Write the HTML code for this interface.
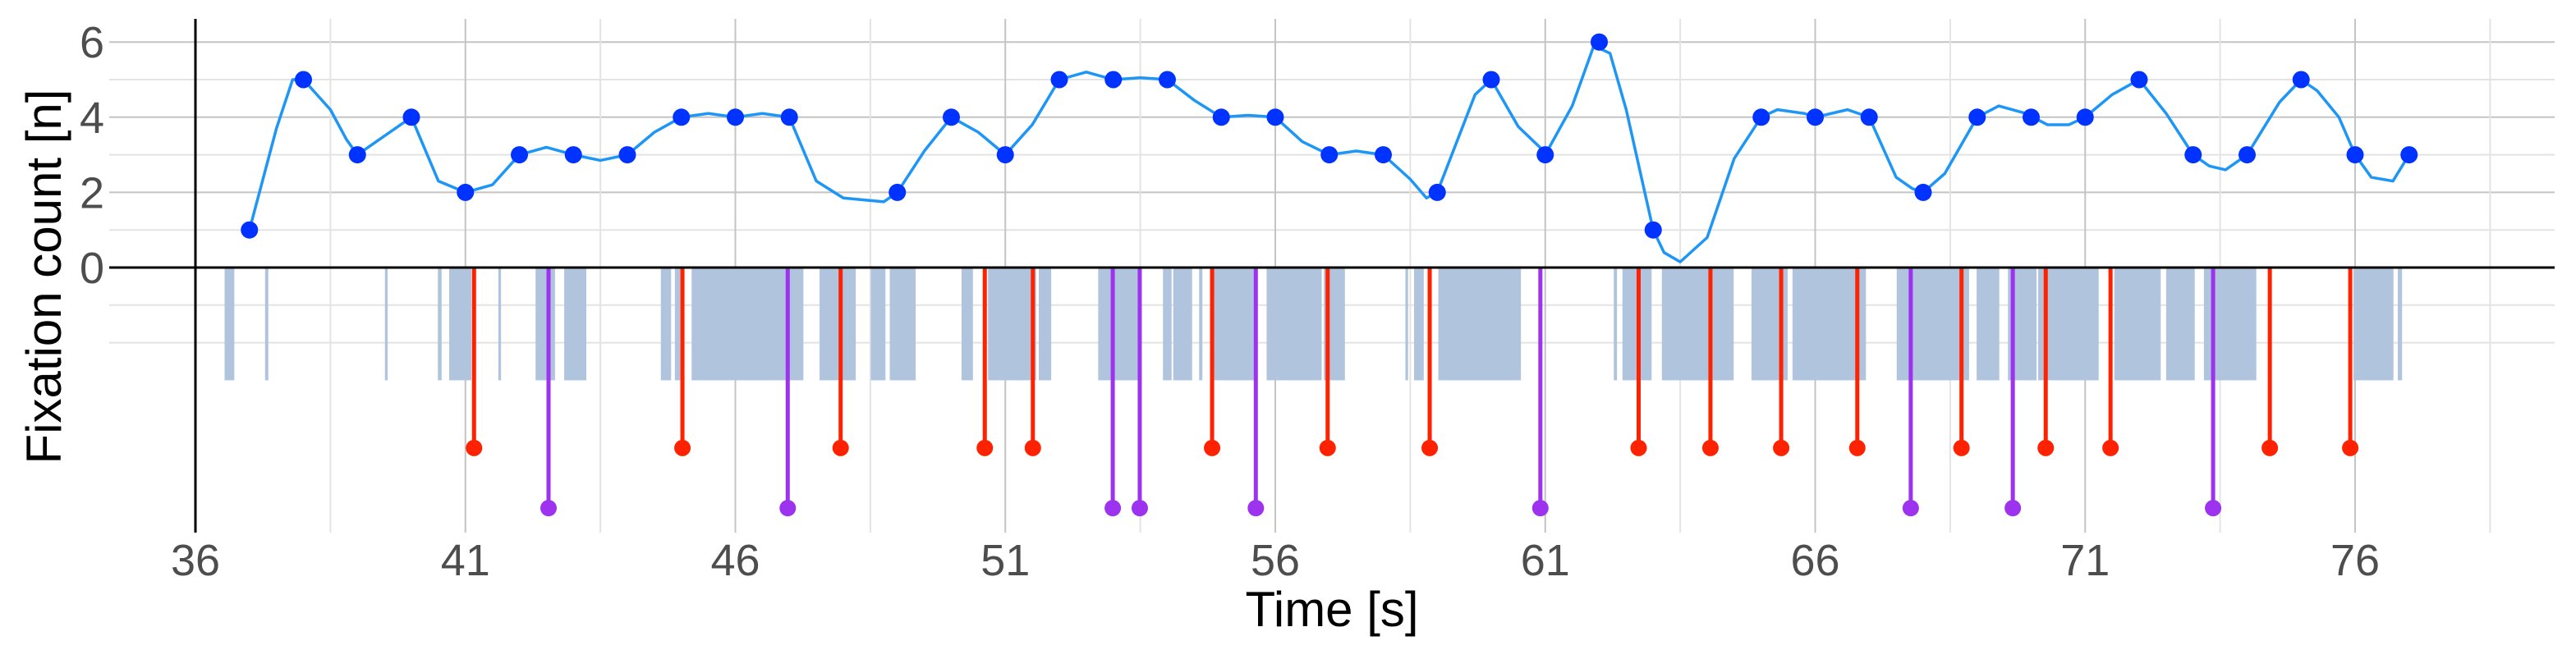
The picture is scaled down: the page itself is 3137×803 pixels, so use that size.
<!DOCTYPE html>
<html><head><meta charset="utf-8"><style>
html,body{margin:0;padding:0;background:#fff;}
svg{display:block;font-family:"Liberation Sans",Arial,sans-serif;}
</style></head><body>
<svg id="chart" width="3137" height="803" viewBox="0 0 3137 803" xmlns="http://www.w3.org/2000/svg">
<g id="grid"></g>
<g id="bars"></g>
<g id="stems"></g>
<g id="axes"></g>
<g id="series"></g>
<g id="labels"></g>
</svg>
<script>
const pointTimes = [37,38,39,40,41,42,43,44,45,46,47,49,50,51,52,53,54,55,56,57,58,59,60,61,62,63,65,66,67,68,69,70,71,72,73,74,75,76,77];
const pointValues = [1,5,3,4,2,3,3,3,4,4,4,2,4,3,5,5,5,4,4,3,3,2,5,3,6,1,4,4,4,2,4,4,4,5,3,3,5,3,3];
const lineTimes = [37,37.5,37.8,38,38.5,38.8,39,39.5,40,40.5,41,41.5,42,42.5,43,43.5,44,44.5,45,45.5,46,46.5,47,47.5,48,48.75,49,49.5,50,50.5,51,51.5,52,52.5,53,53.5,54,54.5,55,55.5,56,56.5,57,57.5,58,58.5,58.8,59,59.7,60,60.5,60.9,61,61.5,61.9,62.2,62.5,63,63.2,63.5,64,64.5,65,65.3,65.8,66,66.6,67,67.5,67.8,68,68.4,69,69.4,69.9,70.3,70.7,71,71.5,72,72.5,73,73.3,73.6,74,74.6,75,75.3,75.7,76,76.3,76.7,77];
const lineValues = [1,3.7,5,5,4.2,3.4,3,3.5,4,2.3,2,2.2,3,3.2,3,2.85,3,3.6,4,4.1,4,4.1,4,2.3,1.85,1.75,2,3.1,4,3.6,3,3.8,5,5.2,5,5.05,5,4.45,4,4.05,4,3.35,3,3.1,3,2.35,1.85,2,4.6,5,3.75,3.2,3,4.3,5.9,5.7,4.2,1,0.4,0.15,0.8,2.9,4,4.2,4.1,4,4.2,4,2.4,2.1,2,2.5,4,4.3,4.1,3.8,3.8,4,4.6,5,4.1,3,2.7,2.6,3,4.4,5,4.7,4,3,2.4,2.3,3];
const barStarts = [36.54,37.29,39.51,40.49,40.70,41.61,42.30,42.83,44.62,44.88,45.19,47.56,48.51,48.86,50.19,50.68,51.62,52.72,53.92,54.11,54.59,54.82,55.84,56.90,58.41,58.57,59.02,62.27,62.43,62.73,63.16,64.82,65.58,67.51,68.99,69.57,70.13,71.54,72.50,73.20,75.97,76.79];
const barEnds = [36.72,37.35,39.56,40.56,41.11,41.66,42.66,43.24,44.81,44.98,47.26,48.23,48.78,49.34,50.40,51.57,51.85,53.47,54.08,54.46,54.65,55.66,56.86,57.29,58.46,58.75,60.55,62.33,62.71,62.97,64.49,65.49,66.94,68.85,69.41,70.10,71.25,72.40,73.03,74.17,76.71,76.87];
const redTimes = [41.16,45.02,47.95,50.62,51.51,54.83,56.97,58.86,62.73,64.06,65.37,66.78,68.71,70.27,71.47,74.42,75.91];
const purpleTimes = [42.54,46.97,52.99,53.49,55.64,60.91,67.77,69.66,73.37];
const xTicks = [36,41,46,51,56,61,66,71,76];
const yTicks = [0,2,4,6];
const redLevel = -4.8;
const purpleLevel = -6.4;
const barDepth = -3;

const NS = "http://www.w3.org/2000/svg";
const X = t => 238 + (t - 36) * 65.75;
const Y = v => 326 - v * 45.8;
function mk(parent, tag, attrs) {
  const e = document.createElementNS(NS, tag);
  for (const k in attrs) e.setAttribute(k, attrs[k]);
  parent.appendChild(e);
  return e;
}
const grid = document.getElementById('grid');
for (let v = -2; v <= 6; v++) {
  if (v === 0) continue;
  const l = mk(grid, 'line', {x1:133, x2:3111, y1:Y(v), y2:Y(v), stroke: (v > 0 && v % 2 === 0) ? '#c4c4c4' : '#e3e3e3', 'stroke-width': 2});
  
  
}
for (let t = 36; t <= 79; t += 2.5) {
  const major = Math.abs(((t - 36) / 5) - Math.round((t - 36) / 5)) < 1e-6;
  const l = mk(grid, 'line', {x1:X(t), x2:X(t), y1:23, y2:649, stroke: major ? '#c4c4c4' : '#e3e3e3', 'stroke-width': 2});
  
  
}
const bars = document.getElementById('bars');
barStarts.forEach((s, i) => {
  const r = mk(bars, 'rect', {x:X(s), y:Y(0), width:Math.max(2, X(barEnds[i]) - X(s)), height:Y(barDepth) - Y(0), fill:'#b0c4de'});
  
  
});
const stems = document.getElementById('stems');
function stem(t, lvl, color, name) {
  const g = mk(stems, 'g', {});
  
  
  mk(g, 'line', {x1:X(t), x2:X(t), y1:Y(0), y2:Y(lvl), stroke:color, 'stroke-width':5});
  mk(g, 'ellipse', {cx:X(t), cy:Y(lvl), rx:10, ry:10, fill:color});
}
redTimes.forEach(t => stem(t, redLevel, '#ff2200', 'red-event-stem'));
purpleTimes.forEach(t => stem(t, purpleLevel, '#9d33ee', 'purple-event-stem'));
const axes = document.getElementById('axes');
let a = mk(axes, 'line', {x1:238, x2:238, y1:23, y2:649, stroke:'#000', 'stroke-width':3});


a = mk(axes, 'line', {x1:133, x2:3111, y1:Y(0), y2:Y(0), stroke:'#000', 'stroke-width':3});


const series = document.getElementById('series');
const p = mk(series, 'polyline', {points: lineTimes.map((t, i) => X(t) + ',' + Y(lineValues[i])).join(' '), fill:'none', stroke:'#1e96f5', 'stroke-width':3.5, 'stroke-linejoin':'round'});


pointTimes.forEach((t, i) => {
  const c = mk(series, 'ellipse', {cx:X(t), cy:Y(pointValues[i]), rx:10.5, ry:10.5, fill:'#0033ff'});
  
  
});
const labels = document.getElementById('labels');
yTicks.forEach(v => {
  const t = mk(labels, 'text', {x:127, y:Y(v) + 19, 'text-anchor':'end', 'font-size':54, fill:'#4d4d4d'});
  t.textContent = v;
  
  
});
xTicks.forEach(v => {
  const t = mk(labels, 'text', {x:X(v), y:701, 'text-anchor':'middle', 'font-size':54, fill:'#4d4d4d'});
  t.textContent = v;
  
  
});
let tt = mk(labels, 'text', {x:1622, y:763, 'text-anchor':'middle', 'font-size':60, fill:'#000'});
tt.textContent = 'Time [s]';


tt = mk(labels, 'text', {x:0, y:0, 'text-anchor':'middle', 'font-size':60, fill:'#000', transform:'translate(74,337) rotate(-90)'});
tt.textContent = 'Fixation count [n]';


</script>
</body></html>
